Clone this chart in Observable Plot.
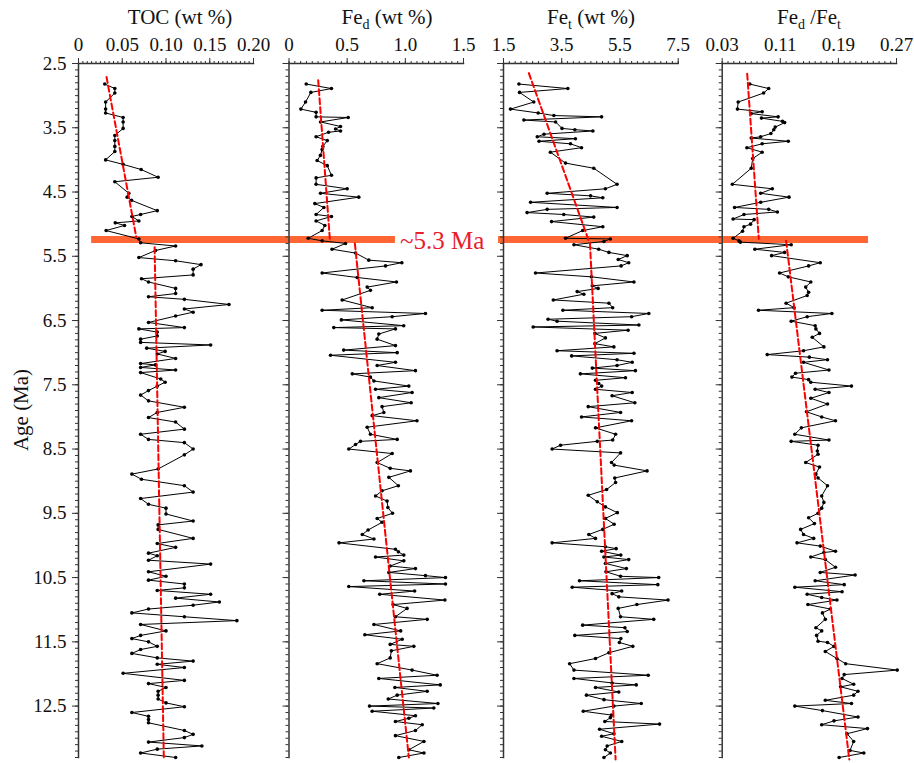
<!DOCTYPE html>
<html><head><meta charset="utf-8">
<script src="https://cdn.jsdelivr.net/npm/d3@7"></script>
<script src="https://cdn.jsdelivr.net/npm/@observablehq/plot@0.6"></script>
<style>
body{margin:0;background:#fff;}
#chart{position:relative;width:914px;height:763px;font-family:"Liberation Serif","Times New Roman",serif;color:#111;background:#fff;}
#chart svg{overflow:visible;}
#chart svg text{font-family:"Liberation Serif","Times New Roman",serif;}
.ttl{position:absolute;top:3px;font-size:21px;transform:translateX(-50%);white-space:nowrap;line-height:28px;font-family:"Liberation Serif","Times New Roman",serif;}
.ttl sub{font-size:14px;vertical-align:-5px;line-height:0;}
.ylab{position:absolute;left:21px;top:410px;font-size:21px;white-space:nowrap;transform:translate(-50%,-50%) rotate(-90deg);font-family:"Liberation Serif","Times New Roman",serif;}
</style></head>
<body><div id="chart"></div>
<script>
// ---------------- data ----------------
const ageDomain = [2.5, 13.3];
const yMajor = [2.5, 3.5, 4.5, 5.5, 6.5, 7.5, 8.5, 9.5, 10.5, 11.5, 12.5];
const bandAge = 5.24;
const bandLabel = "~5.3 Ma";

const tocAges = [2.82,2.89,2.96,3.10,3.21,3.27,3.34,3.41,3.51,3.62,3.70,3.79,3.87,4.00,4.07,4.15,4.27,4.34,4.52,4.58,4.63,4.79,4.85,4.88,4.95,4.98,5.02,5.10,5.23,5.29,5.34,5.41,5.52,5.57,5.63,5.70,5.79,5.85,5.90,6.00,6.08,6.13,6.17,6.25,6.32,6.37,6.43,6.53,6.61,6.63,6.68,6.74,6.79,6.84,6.88,6.93,6.98,7.02,7.09,7.17,7.19,7.23,7.27,7.31,7.41,7.46,7.52,7.59,7.66,7.75,7.85,7.93,8.01,8.08,8.19,8.27,8.35,8.40,8.50,8.59,8.81,8.89,8.97,9.07,9.17,9.27,9.36,9.42,9.51,9.62,9.68,9.75,9.89,9.97,10.03,10.12,10.16,10.23,10.29,10.41,10.48,10.54,10.60,10.66,10.70,10.76,10.82,10.88,10.93,10.99,11.05,11.11,11.17,11.23,11.33,11.40,11.45,11.50,11.57,11.62,11.68,11.75,11.80,11.85,11.90,11.99,12.10,12.15,12.21,12.27,12.33,12.39,12.45,12.51,12.60,12.66,12.71,12.76,12.88,12.94,12.99,13.06,13.12,13.17,13.23,13.30];
const tocVals = [0.030,0.0415,0.0415,0.031,0.031,0.031,0.051,0.051,0.051,0.0415,0.0415,0.0415,0.0415,0.031,0.051,0.0716,0.091,0.0415,0.0575,0.0556,0.0606,0.090,0.071,0.061,0.069,0.042,0.0526,0.0316,0.069,0.071,0.111,0.088,0.069,0.111,0.140,0.131,0.131,0.072,0.080,0.111,0.111,0.080,0.121,0.172,0.121,0.131,0.111,0.080,0.121,0.069,0.090,0.090,0.071,0.071,0.151,0.078,0.099,0.090,0.111,0.071,0.088,0.071,0.111,0.071,0.094,0.099,0.090,0.080,0.071,0.080,0.121,0.090,0.080,0.111,0.121,0.071,0.080,0.121,0.131,0.121,0.091,0.061,0.072,0.121,0.131,0.071,0.080,0.100,0.100,0.131,0.091,0.091,0.131,0.090,0.111,0.080,0.090,0.080,0.151,0.080,0.100,0.080,0.121,0.121,0.090,0.151,0.111,0.161,0.131,0.080,0.061,0.121,0.181,0.071,0.100,0.071,0.061,0.080,0.090,0.071,0.061,0.090,0.131,0.090,0.121,0.051,0.121,0.080,0.100,0.091,0.091,0.091,0.100,0.121,0.061,0.080,0.080,0.080,0.121,0.131,0.121,0.080,0.141,0.090,0.071,0.111];
const tocTrendAges = [2.71, 5.20, 5.36, 13.30];
const tocTrendVals = [0.032, 0.066, 0.087, 0.0975];

const fedAges = [2.82,2.89,2.95,3.10,3.21,3.26,3.33,3.34,3.41,3.48,3.52,3.55,3.57,3.64,3.70,3.79,3.84,3.93,4.01,4.09,4.24,4.28,4.38,4.45,4.52,4.58,4.68,4.74,4.85,4.88,4.95,5.02,5.10,5.22,5.26,5.30,5.39,5.45,5.56,5.60,5.65,5.76,5.83,5.90,5.98,6.03,6.18,6.30,6.34,6.39,6.44,6.49,6.58,6.61,6.63,6.71,6.79,6.89,6.96,7.00,7.04,7.15,7.20,7.28,7.33,7.38,7.44,7.52,7.57,7.62,7.70,7.78,7.84,7.93,7.98,8.06,8.16,8.27,8.35,8.38,8.43,8.50,8.57,8.71,8.80,8.84,8.94,9.07,9.15,9.23,9.31,9.41,9.50,9.58,9.64,9.76,9.83,9.90,9.96,10.06,10.10,10.15,10.18,10.24,10.32,10.36,10.42,10.47,10.50,10.55,10.60,10.64,10.71,10.76,10.85,10.92,10.98,11.11,11.15,11.23,11.33,11.39,11.46,11.54,11.57,11.64,11.75,11.84,11.94,12.02,12.07,12.17,12.21,12.27,12.33,12.39,12.46,12.50,12.53,12.58,12.65,12.69,12.74,12.79,12.88,12.96,13.05,13.18,13.23,13.30];
const fedVals = [0.148,0.365,0.188,0.142,0.102,0.233,0.233,0.509,0.271,0.443,0.40,0.443,0.34,0.233,0.329,0.291,0.285,0.27,0.242,0.329,0.365,0.233,0.233,0.50,0.271,0.60,0.222,0.30,0.233,0.365,0.233,0.308,0.285,0.165,0.285,0.486,0.37,0.572,0.686,0.97,0.83,0.285,0.586,0.924,0.672,0.70,0.457,0.715,0.285,1.173,0.887,0.45,0.986,0.385,0.915,0.772,0.758,0.915,0.47,0.93,0.357,0.915,0.758,1.087,0.544,0.70,0.73,1.03,0.744,1.058,0.772,1.05,0.80,0.815,0.715,1.10,0.672,0.70,0.93,0.615,0.572,0.514,0.887,0.758,0.87,1.044,0.858,0.94,0.80,0.744,0.843,0.85,0.89,0.758,0.80,0.68,0.63,0.73,0.43,0.915,0.94,0.987,0.744,0.987,0.87,1.087,0.858,1.173,1.345,0.644,1.345,0.514,1.08,0.78,1.34,0.895,1.015,0.915,1.188,0.73,0.96,0.652,0.973,0.87,1.073,0.88,0.87,0.758,1.058,1.273,0.772,1.30,0.91,1.188,0.93,0.853,1.28,0.692,1.245,0.715,1.087,1.03,0.915,1.145,1.087,0.915,1.16,1.03,1.16,0.944];
const fedTrendAges = [2.76, 5.23, 5.30, 13.30];
const fedTrendVals = [0.251, 0.351, 0.566, 1.03];

const fetAges = [2.82,2.89,2.95,3.10,3.21,3.27,3.31,3.33,3.38,3.41,3.51,3.53,3.55,3.60,3.64,3.67,3.71,3.75,3.81,3.88,4.05,4.13,4.38,4.45,4.52,4.56,4.59,4.66,4.74,4.77,4.82,4.85,4.89,4.96,5.04,5.10,5.22,5.23,5.27,5.32,5.39,5.44,5.49,5.55,5.60,5.65,5.76,5.82,5.90,5.96,6.00,6.05,6.09,6.18,6.23,6.30,6.34,6.39,6.44,6.48,6.51,6.57,6.60,6.65,6.70,6.77,6.86,6.91,6.97,7.01,7.05,7.11,7.15,7.20,7.24,7.28,7.33,7.39,7.43,7.48,7.52,7.57,7.62,7.67,7.78,7.84,7.93,8.00,8.06,8.17,8.27,8.36,8.38,8.44,8.50,8.56,8.71,8.75,8.84,8.95,9.02,9.13,9.22,9.32,9.40,9.49,9.58,9.67,9.75,9.83,9.89,9.96,10.02,10.05,10.09,10.15,10.18,10.22,10.28,10.36,10.41,10.48,10.50,10.55,10.61,10.65,10.71,10.75,10.80,10.85,10.92,10.98,11.11,11.15,11.24,11.28,11.34,11.40,11.45,11.51,11.57,11.67,11.76,11.84,11.94,12.02,12.07,12.14,12.17,12.21,12.28,12.33,12.40,12.46,12.50,12.58,12.64,12.68,12.74,12.78,12.86,12.93,12.97,13.05,13.12,13.18,13.23,13.30];
const fetVals = [2.03,3.71,2.05,2.54,1.74,2.69,3.23,4.87,2.20,3.29,3.51,3.95,4.57,2.89,2.66,3.97,2.72,3.80,4.18,3.11,3.63,4.60,5.40,5.0,3.0,4.49,4.91,2.43,5.40,3.0,2.31,3.57,4.60,3.15,4.91,4.22,3.63,5.17,4.95,3.92,4.77,5.12,5.75,5.44,5.80,5.54,2.60,4.52,5.98,4.55,4.75,4.03,4.26,3.21,5.12,5.25,3.54,6.49,5.90,3.03,3.34,6.15,2.52,5.78,4.64,5.0,4.64,5.29,3.34,5.98,3.84,5.40,5.92,5.40,4.55,6.03,4.14,5.69,4.66,4.77,4.87,4.66,5.92,5.23,6.01,4.41,5.52,4.18,5.90,4.66,5.35,5.25,4.72,3.46,3.17,5.52,5.21,5.30,6.43,5.32,5.35,5.04,4.41,4.72,5.0,5.41,5.0,5.30,4.91,4.43,4.66,3.17,5.0,5.37,4.87,5.53,4.95,5.80,5.0,5.72,5.02,5.52,6.83,4.11,6.80,3.86,5.56,5.23,5.46,7.15,6.08,5.44,5.52,6.66,4.22,5.67,5.75,3.95,5.53,5.48,5.94,5.12,4.66,3.77,3.92,6.47,3.92,5.23,6.06,4.66,5.46,4.35,4.95,6.23,5.29,4.24,5.21,5.17,4.98,6.86,4.80,5.29,4.87,5.56,5.06,5.0,5.17,4.95];
const fetTrendAges = [2.65, 5.26, 5.30, 13.33];
const fetTrendVals = [2.37, 4.43, 4.47, 5.35];

const ratioAges = [2.82,2.89,2.96,3.10,3.21,3.25,3.28,3.33,3.35,3.40,3.42,3.49,3.53,3.59,3.64,3.66,3.71,3.75,3.81,3.88,3.98,4.13,4.38,4.45,4.52,4.58,4.66,4.74,4.77,4.81,4.85,4.92,4.93,5.00,5.04,5.11,5.22,5.26,5.28,5.32,5.39,5.44,5.49,5.60,5.65,5.76,5.82,5.90,5.98,6.06,6.11,6.23,6.30,6.34,6.39,6.44,6.51,6.58,6.63,6.70,6.76,6.91,6.97,7.03,7.07,7.11,7.15,7.27,7.32,7.38,7.42,7.46,7.52,7.57,7.62,7.71,7.80,7.92,8.00,8.06,8.17,8.27,8.36,8.38,8.44,8.53,8.58,8.71,8.78,8.89,8.95,9.07,9.23,9.33,9.42,9.50,9.57,9.66,9.75,9.83,9.89,9.96,10.01,10.09,10.11,10.18,10.22,10.34,10.42,10.46,10.55,10.61,10.65,10.72,10.76,10.81,10.85,10.92,10.99,11.05,11.15,11.28,11.33,11.40,11.49,11.51,11.57,11.65,11.76,11.84,11.94,12.01,12.07,12.16,12.20,12.27,12.33,12.41,12.46,12.50,12.57,12.67,12.73,12.79,12.85,12.93,13.05,13.19,13.23,13.30];
const ratioVals = [0.068,0.094,0.087,0.052,0.051,0.085,0.070,0.107,0.084,0.113,0.116,0.103,0.101,0.097,0.083,0.070,0.121,0.085,0.064,0.085,0.072,0.070,0.044,0.099,0.083,0.122,0.083,0.047,0.094,0.106,0.060,0.045,0.074,0.069,0.060,0.058,0.045,0.053,0.055,0.125,0.075,0.116,0.098,0.165,0.149,0.109,0.121,0.152,0.145,0.149,0.147,0.118,0.129,0.080,0.181,0.147,0.125,0.158,0.159,0.164,0.154,0.170,0.142,0.092,0.150,0.175,0.142,0.177,0.131,0.126,0.149,0.152,0.208,0.158,0.177,0.152,0.175,0.146,0.167,0.186,0.139,0.130,0.177,0.125,0.162,0.161,0.162,0.145,0.164,0.159,0.162,0.175,0.167,0.170,0.167,0.162,0.149,0.157,0.138,0.142,0.156,0.133,0.165,0.186,0.170,0.152,0.172,0.186,0.165,0.213,0.158,0.198,0.130,0.195,0.147,0.167,0.188,0.148,0.179,0.168,0.172,0.159,0.167,0.160,0.162,0.175,0.184,0.172,0.188,0.200,0.271,0.198,0.195,0.211,0.193,0.217,0.211,0.172,0.208,0.130,0.168,0.217,0.184,0.167,0.230,0.202,0.211,0.206,0.225,0.191];
const ratioTrendAges = [2.66, 5.23, 5.26, 13.33];
const ratioTrendVals = [0.0644, 0.0804, 0.118, 0.205];
const trendSegment = [0, 0, 1, 1];

const tocTicks = [0, 0.05, 0.10, 0.15, 0.20];
const tocTickLabels = ["0", "0.05", "0.10", "0.15", "0.20"];
const fedTicks = [0, 0.5, 1.0, 1.5];
const fedTickLabels = ["0", "0.5", "1.0", "1.5"];
const fetTicks = [1.5, 3.5, 5.5, 7.5];
const fetTickLabels = ["1.5", "3.5", "5.5", "7.5"];
const ratioTicks = [0.03, 0.11, 0.19, 0.27];
const ratioTickLabels = ["0.03", "0.11", "0.19", "0.27"];

// extent of the ~5.3 Ma band in each panel, in that panel's x units
const bandFrom = [0.015, 0, 1.33, 0.03];
const bandTo = [0.2406, 0.915, 9.01, 0.2315];

// ---------------- drawing ----------------
const FONT = '"Liberation Serif","Times New Roman",serif';
const AXIS = "#333";
const chart = document.getElementById("chart");
const yMinor = d3.range(25, 134).map(d => d / 10);
function minorTicks(ticks) {
  const step = (ticks[1] - ticks[0]) / 10;
  const n = Math.round((ticks[ticks.length - 1] - ticks[0]) / step);
  return d3.range(n + 1).map(i => +(ticks[0] + i * step).toFixed(5));
}

function panel(cfg) {
  const data = cfg.ages.map((a, i) => ({age: a, v: cfg.vals[i]})).sort((a, b) => a.age - b.age);
  const trend = cfg.trendAges.map((a, i) => ({age: a, v: cfg.trendVals[i], seg: trendSegment[i]}));
  const marks = [
    Plot.ruleY([bandAge], {x1: bandFrom[cfg.k], x2: bandTo[cfg.k], stroke: "#FF6633", strokeWidth: 7}),
    Plot.line(data, {x: "v", y: "age", stroke: "#000", strokeWidth: 1}),
    Plot.dot(data, {x: "v", y: "age", r: 1.8, fill: "#000", stroke: "none"}),
    Plot.line(trend, {x: "v", y: "age", z: "seg", stroke: "#FF0000", strokeWidth: 2, strokeDasharray: "6,3"}),
    Plot.axisX(minorTicks(cfg.ticks), {anchor: "top", tickSize: 3, fill: "none", tickFormat: () => "", label: null, stroke: AXIS}),
    Plot.axisX(cfg.ticks, {anchor: "top", tickSize: 6, tickPadding: 7, label: null, stroke: AXIS, fill: "#111",
      fontSize: 19, fontFamily: FONT, tickFormat: d => cfg.labels[cfg.ticks.indexOf(d)]}),
    Plot.axisY(yMinor, {anchor: "left", tickSize: 3, fill: "none", tickFormat: () => "", label: null, stroke: AXIS}),
    cfg.yLabels
      ? Plot.axisY(yMajor, {anchor: "left", tickSize: 6, tickPadding: 6, label: null, stroke: AXIS, fill: "#111", fontSize: 19, fontFamily: FONT, tickFormat: d => d.toFixed(1)})
      : Plot.axisY(yMajor, {anchor: "left", tickSize: 6, fill: "none", tickFormat: () => "", label: null, stroke: AXIS}),
    Plot.frame({anchor: "top", stroke: AXIS, strokeWidth: 1.5}),
    Plot.frame({anchor: "left", stroke: AXIS, strokeWidth: 1.5}),
    ...(cfg.extra || [])
  ];
  const svg = Plot.plot({
    width: cfg.w, height: 763,
    marginTop: 63, marginBottom: 6, marginLeft: cfg.ml, marginRight: cfg.mr,
    x: {domain: cfg.domain, axis: null},
    y: {domain: ageDomain, reverse: true, axis: null},
    style: {fontFamily: FONT, fontSize: "19px", background: "transparent", overflow: "visible", color: "#111"},
    marks
  });
  svg.style.position = "absolute";
  svg.style.left = cfg.left + "px";
  svg.style.top = "0px";
  svg.style.overflow = "visible";
  chart.appendChild(svg);
}

panel({k: 0, left: 0, w: 272, ml: 78, mr: 19, domain: [0, 0.20], ticks: tocTicks, labels: tocTickLabels,
  ages: tocAges, vals: tocVals, trendAges: tocTrendAges, trendVals: tocTrendVals, yLabels: true});
panel({k: 1, left: 272, w: 224, ml: 16.5, mr: 33, domain: [0, 1.5], ticks: fedTicks, labels: fedTickLabels,
  ages: fedAges, vals: fedVals, trendAges: fedTrendAges, trendVals: fedTrendVals,
  extra: [Plot.text([bandLabel], {x: 0.955, y: bandAge, text: d => d, textAnchor: "start", lineAnchor: "middle", fontSize: 25, fontFamily: FONT, fill: "#E8202A", dy: 1})]});
panel({k: 2, left: 480, w: 232, ml: 23, mr: 34.3, domain: [1.5, 7.5], ticks: fetTicks, labels: fetTickLabels,
  ages: fetAges, vals: fetVals, trendAges: fetTrendAges, trendVals: fetTrendVals});
panel({k: 3, left: 696, w: 218, ml: 25.7, mr: 18, domain: [0.03, 0.27], ticks: ratioTicks, labels: ratioTickLabels,
  ages: ratioAges, vals: ratioVals, trendAges: ratioTrendAges, trendVals: ratioTrendVals});

// titles
const titles = [
  {x: 180, html: "TOC (wt %)"},
  {x: 387, html: "Fe<sub>d</sub> (wt %)"},
  {x: 591, html: "Fe<sub>t</sub> (wt %)"},
  {x: 809, html: "Fe<sub>d</sub> /Fe<sub>t</sub>"}
];
for (const t of titles) {
  const d = document.createElement("div");
  d.className = "ttl";
  d.style.left = t.x + "px";
  d.innerHTML = t.html;
  chart.appendChild(d);
}
const yl = document.createElement("div");
yl.className = "ylab";
yl.textContent = "Age (Ma)";
chart.appendChild(yl);
</script>
</body></html>
